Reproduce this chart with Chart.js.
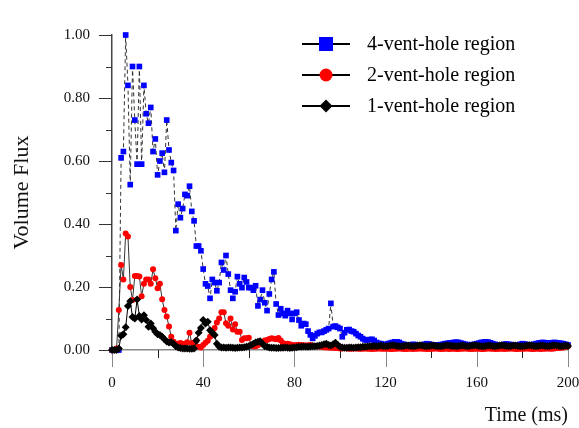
<!DOCTYPE html>
<html>
<head>
<meta charset="utf-8">
<script src="https://cdn.jsdelivr.net/npm/chart.js@4.4.1/dist/chart.umd.min.js"></script>
<style>
  html, body { margin: 0; padding: 0; background: #fff; }
</style>
</head>
<body>
<canvas id="myChart" width="579" height="428"></canvas>
<script>
// sampling grid: one sample per ms, 0..200
const timeMs = Array.from({ length: 201 }, (_, i) => i);

const flux4Vent = [
  0, 0, 0, 0, 0.61, 0.63, 1.00, 0.84, 0.525, 0.90,
  0.73, 0.59, 0.90, 0.59, 0.84, 0.75, 0.72, 0.77, 0.63, 0.67,
  0.556, 0.60, 0.625, 0.564, 0.73, 0.635, 0.595, 0.57, 0.379, 0.463,
  0.42, 0.449, 0.494, 0.49, 0.52, 0.44, 0.41, 0.33, 0.33, 0.315,
  0.257, 0.21, 0.203, 0.164, 0.224, 0.214, 0.188, 0.214, 0.278, 0.254,
  0.30, 0.241, 0.19, 0.164, 0.185, 0.233, 0.21, 0.198, 0.23, 0.216,
  0.198, 0.198, 0.19, 0.204, 0.14, 0.16, 0.19, 0.15, 0.125, 0.178,
  0.224, 0.248, 0.146, 0.111, 0.131, 0.116, 0.109, 0.125, 0.116, 0.097,
  0.116, 0.12, 0.095, 0.077, 0.084, 0.082, 0.06, 0.048, 0.037, 0.045,
  0.052, 0.056, 0.056, 0.06, 0.064, 0.068, 0.148, 0.074, 0.076, 0.072,
  0.068, 0.042, 0.055, 0.064, 0.065, 0.06, 0.058, 0.052, 0.046, 0.042,
  0.036, 0.032, 0.032, 0.033, 0.034, 0.03, 0.024, 0.021,
  0.02, 0.018, 0.017, 0.02, 0.022, 0.024, 0.026, 0.026, 0.024, 0.02,
  0.018, 0.016, 0.015, 0.016, 0.018, 0.017, 0.016, 0.015, 0.016, 0.018,
  0.02, 0.019, 0.017, 0.016, 0.015, 0.016, 0.017, 0.018, 0.02, 0.021,
  0.022, 0.023, 0.024, 0.025, 0.024, 0.022, 0.02, 0.018, 0.017, 0.016,
  0.017, 0.018, 0.02, 0.022, 0.024, 0.025, 0.026, 0.025, 0.023, 0.02,
  0.018, 0.016, 0.015, 0.016, 0.018, 0.019, 0.018, 0.017, 0.016, 0.015,
  0.016, 0.018, 0.02, 0.019, 0.017, 0.016, 0.017, 0.018, 0.02, 0.022,
  0.023, 0.024, 0.023, 0.022, 0.022, 0.023, 0.024, 0.023, 0.022, 0.021,
  0.02, 0.018, 0.016,
];

const flux2Vent = [
  0, 0, 0.005, 0.127, 0.27, 0.224, 0.37, 0.36, 0.20, 0.159,
  0.235, 0.235, 0.233, 0.171, 0.21, 0.224, 0.224, 0.21, 0.256, 0.228,
  0.196, 0.21, 0.161, 0.127, 0.106, 0.075, 0.042, 0.026, 0.02, 0.02,
  0.022, 0.02, 0.02, 0.025, 0.055, 0.022, 0.02, 0.03, 0.01, 0.008,
  0.016, 0.023, 0.029, 0.042, 0.058, 0.07, 0.087, 0.1, 0.12, 0.12,
  0.085, 0.077, 0.1, 0.065, 0.082, 0.058, 0.058, 0.032, 0.037, 0.037,
  0.039, 0.016, 0.012, 0.012, 0.015, 0.02, 0.025, 0.03, 0.032, 0.035,
  0.037, 0.036, 0.034, 0.038, 0.03, 0.022, 0.018, 0.02, 0.018, 0.016,
  0.015, 0.016, 0.017, 0.016, 0.015, 0.014, 0.015, 0.016, 0.014, 0.013,
  0.012, 0.011, 0.01, 0.009, 0.008, 0.008, 0.007, 0.007, 0.006, 0.006,
  0.005, 0.005, 0.006, 0.005, 0.004, 0.004, 0.005, 0.005, 0.004, 0.004,
  0.004, 0.005, 0.004, 0.004, 0.003, 0.004, 0.004, 0.005, 0.004, 0.004,
  0.004, 0.004, 0.003, 0.003, 0.004, 0.004, 0.005, 0.004, 0.003, 0.003,
  0.004, 0.004, 0.003, 0.004, 0.004, 0.005, 0.004, 0.004, 0.003, 0.003,
  0.004, 0.004, 0.005, 0.004, 0.003, 0.003, 0.004, 0.004, 0.003, 0.004,
  0.004, 0.003, 0.003, 0.004, 0.004, 0.005, 0.004, 0.003, 0.003, 0.004,
  0.004, 0.004, 0.003, 0.003, 0.004, 0.005, 0.004, 0.004, 0.003, 0.003,
  0.004, 0.004, 0.003, 0.004, 0.004, 0.005, 0.004, 0.003, 0.003, 0.004,
  0.004, 0.004, 0.005, 0.004, 0.003, 0.003, 0.004, 0.004, 0.003, 0.004,
  0.004, 0.005, 0.004, 0.004, 0.005, 0.006, 0.006, 0.007, 0.008, 0.01,
  0.012,
];

const flux1Vent = [
  0, 0, 0, 0.005, 0.045, 0.05, 0.072, 0.14, 0.155, 0.105,
  0.1, 0.16, 0.108, 0.097, 0.11, 0.095, 0.074, 0.084, 0.069, 0.058,
  0.05, 0.048, 0.042, 0.034, 0.027, 0.024, 0.025, 0.02, 0.012, 0.008,
  0.006, 0.005, 0.005, 0.005, 0.004, 0.004, 0.005, 0.03, 0.055, 0.07,
  0.095, 0.084, 0.09, 0.063, 0.055, 0.048, 0.02, 0.01, 0.008, 0.008,
  0.007, 0.008, 0.008, 0.007, 0.006, 0.007, 0.008, 0.008, 0.009, 0.01,
  0.012, 0.016, 0.02, 0.024, 0.026, 0.028, 0.02, 0.012, 0.01, 0.008,
  0.007, 0.007, 0.006, 0.006, 0.007, 0.007, 0.008, 0.007, 0.006, 0.007,
  0.008, 0.009, 0.01, 0.01, 0.011, 0.01, 0.01, 0.011, 0.012, 0.012,
  0.013, 0.014, 0.016, 0.018, 0.02, 0.016, 0.014, 0.018, 0.023, 0.016,
  0.01, 0.008, 0.007, 0.007, 0.008, 0.008, 0.007, 0.008, 0.009, 0.009,
  0.01, 0.01, 0.011, 0.012, 0.012, 0.013, 0.012, 0.013, 0.014, 0.013,
  0.012, 0.013, 0.014, 0.015, 0.014, 0.013, 0.012, 0.012, 0.013, 0.014,
  0.014, 0.013, 0.012, 0.013, 0.014, 0.015, 0.014, 0.013, 0.012, 0.013,
  0.014, 0.014, 0.013, 0.012, 0.012, 0.013, 0.014, 0.015, 0.014, 0.013,
  0.013, 0.012, 0.013, 0.014, 0.014, 0.013, 0.012, 0.013, 0.014, 0.015,
  0.014, 0.013, 0.012, 0.012, 0.013, 0.014, 0.014, 0.013, 0.012, 0.013,
  0.014, 0.015, 0.014, 0.013, 0.012, 0.013, 0.014, 0.014, 0.013, 0.012,
  0.012, 0.013, 0.014, 0.015, 0.014, 0.013, 0.012, 0.013, 0.014, 0.014,
  0.013, 0.012, 0.013, 0.014, 0.015, 0.014, 0.013, 0.012, 0.013, 0.014,
  0.013,
];

const seriesNames = ["4-vent-hole region", "2-vent-hole region", "1-vent-hole region"];
const xMajorTicks = [0, 40, 80, 120, 160, 200];
const xMinorTicks = [20, 60, 100, 140, 180];
const yMajorTicks = [0, 0.2, 0.4, 0.6, 0.8, 1.0];
const yMinorTicks = [0.1, 0.3, 0.5, 0.7, 0.9];

const serif = "'Liberation Serif', 'DejaVu Serif', serif";
const toPoints = (arr) => arr.map((v, i) => ({ x: timeMs[i], y: v }));

// outward tick marks, long for major and short for minor
const tickMarks = {
  id: "tickMarks",
  beforeDatasetsDraw: (chart) => {
    const { ctx, scales: { x, y } } = chart;
    ctx.save();
    ctx.lineWidth = 1;
    const yTick = (v, len, color) => {
      const py = Math.round(y.getPixelForValue(v)) + 0.5;
      ctx.strokeStyle = color;
      ctx.beginPath();
      ctx.moveTo(x.left - len, py);
      ctx.lineTo(x.left, py);
      ctx.stroke();
    };
    const xTick = (v, len, color) => {
      const px = Math.round(x.getPixelForValue(v)) + 0.5;
      ctx.strokeStyle = color;
      ctx.beginPath();
      ctx.moveTo(px, y.bottom);
      ctx.lineTo(px, y.bottom + len);
      ctx.stroke();
    };
    yMajorTicks.forEach((v) => yTick(v, 13, "#333"));
    yMinorTicks.forEach((v) => yTick(v, 6, "#333"));
    xMajorTicks.forEach((v) => xTick(v, 17, "#888"));
    xMinorTicks.forEach((v) => xTick(v, 8, "#222"));
    ctx.restore();
  },
};

// legend: line with the marker in its middle, then the name
const lineLegend = {
  id: "lineLegend",
  afterDraw: (chart, args, opts) => {
    const { ctx } = chart;
    ctx.save();
    chart.data.datasets.forEach((ds, i) => {
      const cy = opts.top + i * opts.rowGap;
      ctx.strokeStyle = "#000";
      ctx.lineWidth = 2;
      ctx.setLineDash([]);
      ctx.beginPath();
      ctx.moveTo(opts.left, cy);
      ctx.lineTo(opts.left + opts.lineLen, cy);
      ctx.stroke();
      const mx = opts.left + opts.lineLen / 2;
      ctx.fillStyle = ds.pointBackgroundColor;
      ctx.beginPath();
      if (ds.pointStyle === "rect") {
        ctx.rect(mx - 7, cy - 7, 14, 14);
      } else if (ds.pointStyle === "circle") {
        ctx.arc(mx, cy, 6.5, 0, Math.PI * 2);
      } else {
        ctx.moveTo(mx, cy - 6.5);
        ctx.lineTo(mx + 6.5, cy);
        ctx.lineTo(mx, cy + 6.5);
        ctx.lineTo(mx - 6.5, cy);
        ctx.closePath();
      }
      ctx.fill();
      ctx.fillStyle = "#000";
      ctx.font = "20px " + serif;
      ctx.textBaseline = "middle";
      ctx.textAlign = "left";
      ctx.fillText(ds.label, opts.left + opts.lineLen + 17, cy + 1);
    });
    ctx.restore();
  },
};

new Chart(document.getElementById("myChart"), {
  type: "line",
  data: {
    datasets: [
      {
        label: seriesNames[0],
        data: toPoints(flux4Vent),
        borderColor: "#333",
        borderWidth: 1,
        borderDash: [4, 3],
        pointStyle: "rect",
        pointRadius: 4,
        pointBackgroundColor: "#0000ff",
        pointBorderWidth: 0,
        order: 3,
        clip: false,
      },
      {
        label: seriesNames[1],
        data: toPoints(flux2Vent),
        borderColor: "#333",
        borderWidth: 1,
        pointStyle: "circle",
        pointRadius: 3,
        pointBackgroundColor: "#ff0000",
        pointBorderWidth: 0,
        order: 2,
        clip: false,
      },
      {
        label: seriesNames[2],
        data: toPoints(flux1Vent),
        borderColor: "#000",
        borderWidth: 1,
        pointStyle: "rectRot",
        pointRadius: 4,
        pointBackgroundColor: "#000",
        pointBorderWidth: 0,
        order: 1,
        clip: false,
      },
    ],
  },
  options: {
    responsive: false,
    animation: false,
    layout: {
      autoPadding: false,
      padding: { left: 0, top: 35, right: 11, bottom: 0 },
    },
    scales: {
      x: {
        type: "linear",
        min: 0,
        max: 200,
        afterFit: (scale) => {
          scale.height = 78;
          scale.paddingLeft = 0;
          scale.paddingRight = 0;
        },
        grid: { display: false, drawTicks: false },
        border: { display: true, color: "#888", width: 1.5 },
        ticks: {
          stepSize: 40,
          padding: 24,
          color: "#111",
          font: { family: serif, size: 15 },
          maxRotation: 0,
        },
        title: {
          display: true,
          text: "Time (ms)",
          align: "end",
          color: "#111",
          font: { family: serif, size: 20 },
          padding: { top: 0, bottom: 0 },
        },
      },
      y: {
        min: 0,
        max: 1,
        afterFit: (scale) => {
          scale.width = 112;
          scale.paddingTop = 0;
          scale.paddingBottom = 0;
        },
        grid: { display: false, drawTicks: false },
        border: { display: true, color: "#444", width: 1.5 },
        ticks: {
          stepSize: 0.2,
          padding: 22,
          color: "#111",
          font: { family: serif, size: 15 },
          callback: (v) => Number(v).toFixed(2),
        },
        title: {
          display: true,
          text: "Volume Flux",
          color: "#111",
          font: { family: serif, size: 22 },
          padding: { top: 9, bottom: 0 },
        },
      },
    },
    plugins: {
      legend: { display: false },
      tooltip: { enabled: false },
      lineLegend: { left: 302, top: 44, rowGap: 31, lineLen: 48 },
    },
  },
  plugins: [tickMarks, lineLegend],
});
</script>
</body>
</html>
